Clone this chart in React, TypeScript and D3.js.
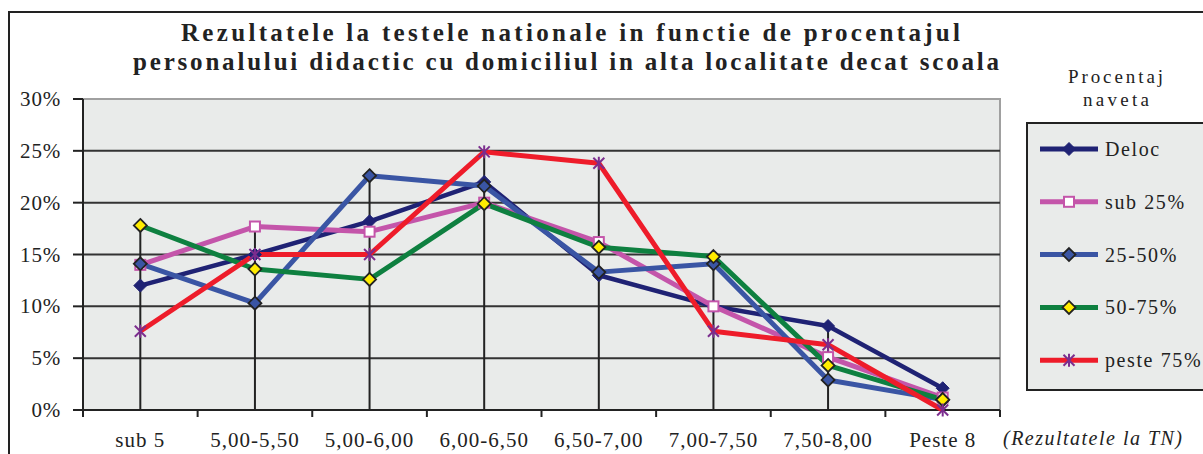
import React from 'react';
import { scaleBand, scaleLinear, line, max } from 'd3';

const categories = ['sub 5', '5,00-5,50', '5,00-6,00', '6,00-6,50', '6,50-7,00', '7,00-7,50', '7,50-8,00', 'Peste 8'];
const yTicks = [0, 5, 10, 15, 20, 25, 30];

const deloc = [12.0, 15.0, 18.2, 22.0, 13.0, 10.0, 8.1, 2.1];
const sub25 = [14.0, 17.7, 17.2, 20.0, 16.2, 10.0, 5.1, 1.2];
const p25_50 = [14.1, 10.3, 22.6, 21.6, 13.3, 14.1, 2.9, 1.0];
const p50_75 = [17.8, 13.6, 12.6, 19.9, 15.7, 14.8, 4.3, 1.0];
const peste75 = [7.6, 15.0, 15.0, 24.9, 23.8, 7.6, 6.3, 0.0];

const seriesNames = ['Deloc', 'sub 25%', '25-50%', '50-75%', 'peste 75%'];
const seriesValues = [deloc, sub25, p25_50, p50_75, peste75];
const seriesColors = ['#1f2274', '#c455aa', '#3a55a4', '#0e8040', '#ee1c2a'];
const markerTypes = ['navyDiamond', 'square', 'blueDiamond', 'yellowDiamond', 'star'];

const serif = '"Liberation Serif", "Times New Roman", serif';

const Marker = ({ type, x, y }: { type: string; x: number; y: number }) => {
  const d = 6.5;
  const diamond = `M${x},${y - d}L${x + d},${y}L${x},${y + d}L${x - d},${y}Z`;
  if (type === 'navyDiamond') return <path d={diamond} fill="#1f2274" stroke="#1f2274" strokeWidth={1} />;
  if (type === 'blueDiamond') return <path d={diamond} fill="#3a55a4" stroke="#222" strokeWidth={1.8} />;
  if (type === 'yellowDiamond') return <path d={diamond} fill="#ffec00" stroke="#222" strokeWidth={1.8} />;
  if (type === 'square') return <rect x={x - 5} y={y - 5} width={10} height={10} fill="#fff" stroke="#c455aa" strokeWidth={2} />;
  // asterisk
  const s = 5.5;
  return (
    <g stroke="#7b2d8e" strokeWidth={2}>
      <line x1={x - s} y1={y - s} x2={x + s} y2={y + s} />
      <line x1={x - s} y1={y + s} x2={x + s} y2={y - s} />
      <line x1={x} y1={y - s - 1} x2={x} y2={y + s + 1} />
    </g>
  );
};

export default function App() {
  const width = 1203;
  const height = 454;
  const plot = { left: 83, right: 1000, top: 99, bottom: 410 };

  const x = scaleBand<string>().domain(categories).range([plot.left, plot.right]);
  const y = scaleLinear().domain([0, 30]).range([plot.bottom, plot.top]);
  const cx = (c: string) => (x(c) as number) + x.bandwidth() / 2;

  const lineGen = line<number>()
    .x((_, i) => cx(categories[i]))
    .y(d => y(d));

  const boundaries = categories.map(c => x(c) as number).concat([plot.right]);

  const legend = { x: 1027, y: 123, rowStart: 149, rowStep: 52.8 };

  return (
    <svg width={width} height={height} style={{ position: 'absolute', left: 0, top: 0, background: '#fff' }}>
      {/* outer chart border */}
      <path d={`M9,${height + 5}V12H${width + 5}`} fill="none" stroke="#222" strokeWidth={2} />

      {/* title */}
      <g fontFamily={serif} fontWeight="bold" fontSize={25} fill="#222">
        <text x={181} y={41} textLength={779} lengthAdjust="spacing">
          Rezultatele la testele nationale in functie de procentajul
        </text>
        <text x={133} y={70} textLength={866} lengthAdjust="spacing">
          personalului didactic cu domiciliul in alta localitate decat scoala
        </text>
      </g>

      {/* plot area */}
      <rect x={plot.left} y={plot.top} width={plot.right - plot.left} height={plot.bottom - plot.top} fill="#e9ebea" />
      <path d={`M${plot.left},${plot.top}H${plot.right}V${plot.bottom}`} fill="none" stroke="#a0a0a0" strokeWidth={2} />

      {/* gridlines */}
      {yTicks.slice(1, -1).map(t => (
        <line key={t} x1={plot.left} x2={plot.right} y1={y(t)} y2={y(t)} stroke="#333" strokeWidth={2} />
      ))}

      {/* drop lines */}
      {categories.map((c, i) => {
        const top = max(seriesValues, s => s[i]) as number;
        return <line key={c} x1={cx(c)} x2={cx(c)} y1={y(top)} y2={plot.bottom} stroke="#222" strokeWidth={2} />;
      })}

      {/* axes */}
      <line x1={plot.left} x2={plot.left} y1={plot.top} y2={plot.bottom} stroke="#222" strokeWidth={2} />
      <line x1={plot.left - 10} x2={plot.right} y1={plot.bottom} y2={plot.bottom} stroke="#222" strokeWidth={2} />
      {yTicks.map(t => (
        <line key={t} x1={plot.left - 10} x2={plot.left} y1={y(t)} y2={y(t)} stroke="#222" strokeWidth={2} />
      ))}
      {boundaries.map((b, i) => (
        <line key={i} x1={b} x2={b} y1={plot.bottom} y2={plot.bottom + 7} stroke="#222" strokeWidth={2} />
      ))}

      {/* y tick labels */}
      <g fontFamily={serif} fontSize={21} fill="#222" letterSpacing={0.8}>
        {yTicks.map(t => (
          <text key={t} x={61} y={y(t) + 7} textAnchor="end">{`${t}%`}</text>
        ))}
      </g>

      {/* x tick labels */}
      <g fontFamily={serif} fontSize={21} fill="#222" letterSpacing={1}>
        {categories.map(c => (
          <text key={c} x={cx(c)} y={447} textAnchor="middle">{c}</text>
        ))}
      </g>
      <text x={1003} y={445} fontFamily={serif} fontStyle="italic" fontSize={20} fill="#222" textLength={179} lengthAdjust="spacing">
        (Rezultatele la TN)
      </text>

      {/* series lines */}
      {seriesValues.map((vals, si) => (
        <path key={si} d={lineGen(vals) || ''} fill="none" stroke={seriesColors[si]} strokeWidth={si === 0 ? 4.5 : 5} strokeLinejoin="round" />
      ))}
      {seriesValues.map((vals, si) => (
        <g key={si}>
          {vals.map((v, i) => (
            <Marker key={i} type={markerTypes[si]} x={cx(categories[i])} y={y(v)} />
          ))}
        </g>
      ))}

      {/* legend */}
      <g fontFamily={serif} fontSize={19} fill="#222">
        <text x={1068} y={83} textLength={95} lengthAdjust="spacing">Procentaj</text>
        <text x={1083} y={106} textLength={66} lengthAdjust="spacing">naveta</text>
      </g>
      <rect x={legend.x} y={legend.y} width={width - legend.x + 10} height={390 - legend.y} fill="#e9ebea" stroke="#222" strokeWidth={2} />
      {seriesNames.map((n, si) => {
        const ly = legend.rowStart + si * legend.rowStep;
        return (
          <g key={n}>
            <line x1={1040} x2={1098} y1={ly} y2={ly} stroke={seriesColors[si]} strokeWidth={5} />
            <Marker type={markerTypes[si]} x={1069} y={ly} />
            <text x={1105} y={ly + 7} fontFamily={serif} fontSize={20} fill="#222" letterSpacing={1.6}>{n}</text>
          </g>
        );
      })}
    </svg>
  );
}
